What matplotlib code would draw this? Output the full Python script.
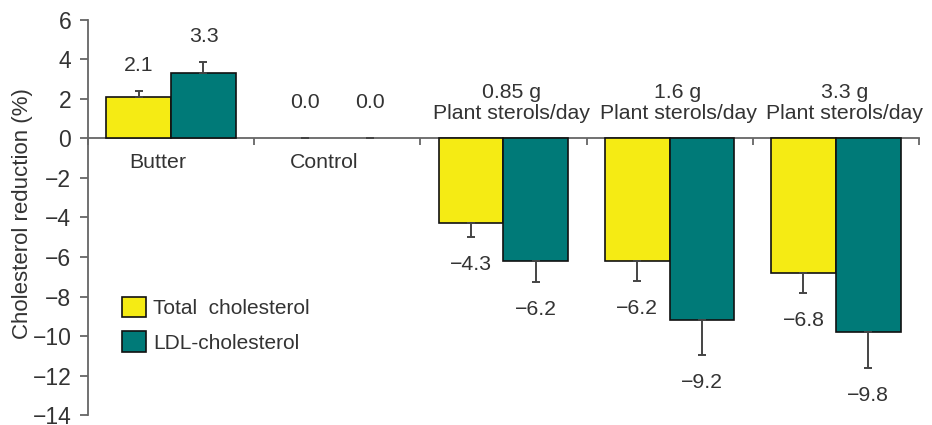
import numpy as np
import matplotlib
matplotlib.use("Agg")
from matplotlib import pyplot as plt
from matplotlib.patches import Patch

plt.rcParams["font.family"] = ["Liberation Sans", "DejaVu Sans"]

# Data
groups = ["Butter", "Control", "0.85 g\nPlant sterols/day", "1.6 g\nPlant sterols/day", "3.3 g\nPlant sterols/day"]
total_chol = [2.1, 0.0, -4.3, -6.2, -6.8]
total_err = [0.3, 0.0, 0.7, 1.0, 1.0]
ldl_chol = [3.3, 0.0, -6.2, -9.2, -9.8]
ldl_err = [0.55, 0.0, 1.05, 1.75, 1.8]

yellow = "#f5eb14"
teal = "#007a78"
text_col = "#333333"
axis_col = "#666666"
fs = 15.3

fig = plt.figure(figsize=(9.32, 4.25), dpi=100)
ax = fig.add_axes([0.0944, 0.023, 0.8916, 0.931])

x = np.arange(len(groups)) + 0.5
w = 0.39


def one_sided(vals, errs):
    vals = np.asarray(vals)
    errs = np.asarray(errs)
    lower = np.where(vals < 0, errs, 0)
    upper = np.where(vals >= 0, errs, 0)
    return [lower, upper]


for offs, vals, errs, col in ((-w / 2, total_chol, total_err, yellow), (w / 2, ldl_chol, ldl_err, teal)):
    lws = [0 if v == 0 else 1.2 for v in vals]
    ax.bar(x + offs, vals, w, color=col, edgecolor="#111111", linewidth=lws, zorder=2)
    ax.errorbar(x + offs, vals, yerr=one_sided(vals, errs), fmt="none", ecolor="#444444",
                elinewidth=1.4, capsize=3, capthick=1.4, zorder=3)
    for xi, v, e in zip(x + offs, vals, errs):
        if v > 0:
            ty = v + e + 1.3
        elif v == 0:
            ty = 1.8
        else:
            ty = v - e - 1.4
        ax.text(xi, ty, f"{v:.1f}".replace("-", "\u2212"), ha="center", va="center",
                fontsize=fs, color=text_col)

# group labels: first two below the zero line, sterol groups above it
for xi, name in zip(x, groups):
    if "\n" in name:
        ax.text(xi + 0.05, 0.75, name, ha="center", va="bottom", fontsize=fs,
                color=text_col, linespacing=1.15)
    else:
        ax.text(xi - 0.08, -1.25, name, ha="center", va="center", fontsize=fs, color=text_col)

ax.set_xlim(0, len(groups))
ax.set_ylim(-14, 6)
ax.set_yticks(np.arange(-14, 7, 2))
ax.set_yticklabels([str(v).replace("-", "\u2212") for v in np.arange(-14, 7, 2)])
ax.set_xticks(np.arange(len(groups) + 1))
ax.set_xticklabels([])

ax.spines["top"].set_visible(False)
ax.spines["right"].set_visible(False)
ax.spines["bottom"].set_position(("data", 0))
ax.spines["bottom"].set_zorder(1)
for s in ("left", "bottom"):
    ax.spines[s].set_color(axis_col)
    ax.spines[s].set_linewidth(1.3)
ax.tick_params(axis="y", direction="out", length=6, width=1.3, color=axis_col,
               labelsize=16.5, labelcolor=text_col, pad=6)
ax.tick_params(axis="x", direction="out", length=5, width=1.3, color=axis_col)

ax.set_ylabel("Cholesterol reduction (%)", fontsize=16, color=text_col)
ax.yaxis.set_label_coords(-0.066, 0.51)

handles = [Patch(facecolor=yellow, edgecolor="#111111", linewidth=1.2),
           Patch(facecolor=teal, edgecolor="#111111", linewidth=1.2)]
ax.legend(handles, ["Total  cholesterol", "LDL-cholesterol"], loc="upper left",
          bbox_to_anchor=(0.041, 0.30), frameon=False, fontsize=15,
          handlelength=1.15, handleheight=1.15, handletextpad=0.35,
          labelspacing=0.65, borderpad=0, borderaxespad=0, labelcolor=text_col)

fig.savefig("out.png", dpi=100)
